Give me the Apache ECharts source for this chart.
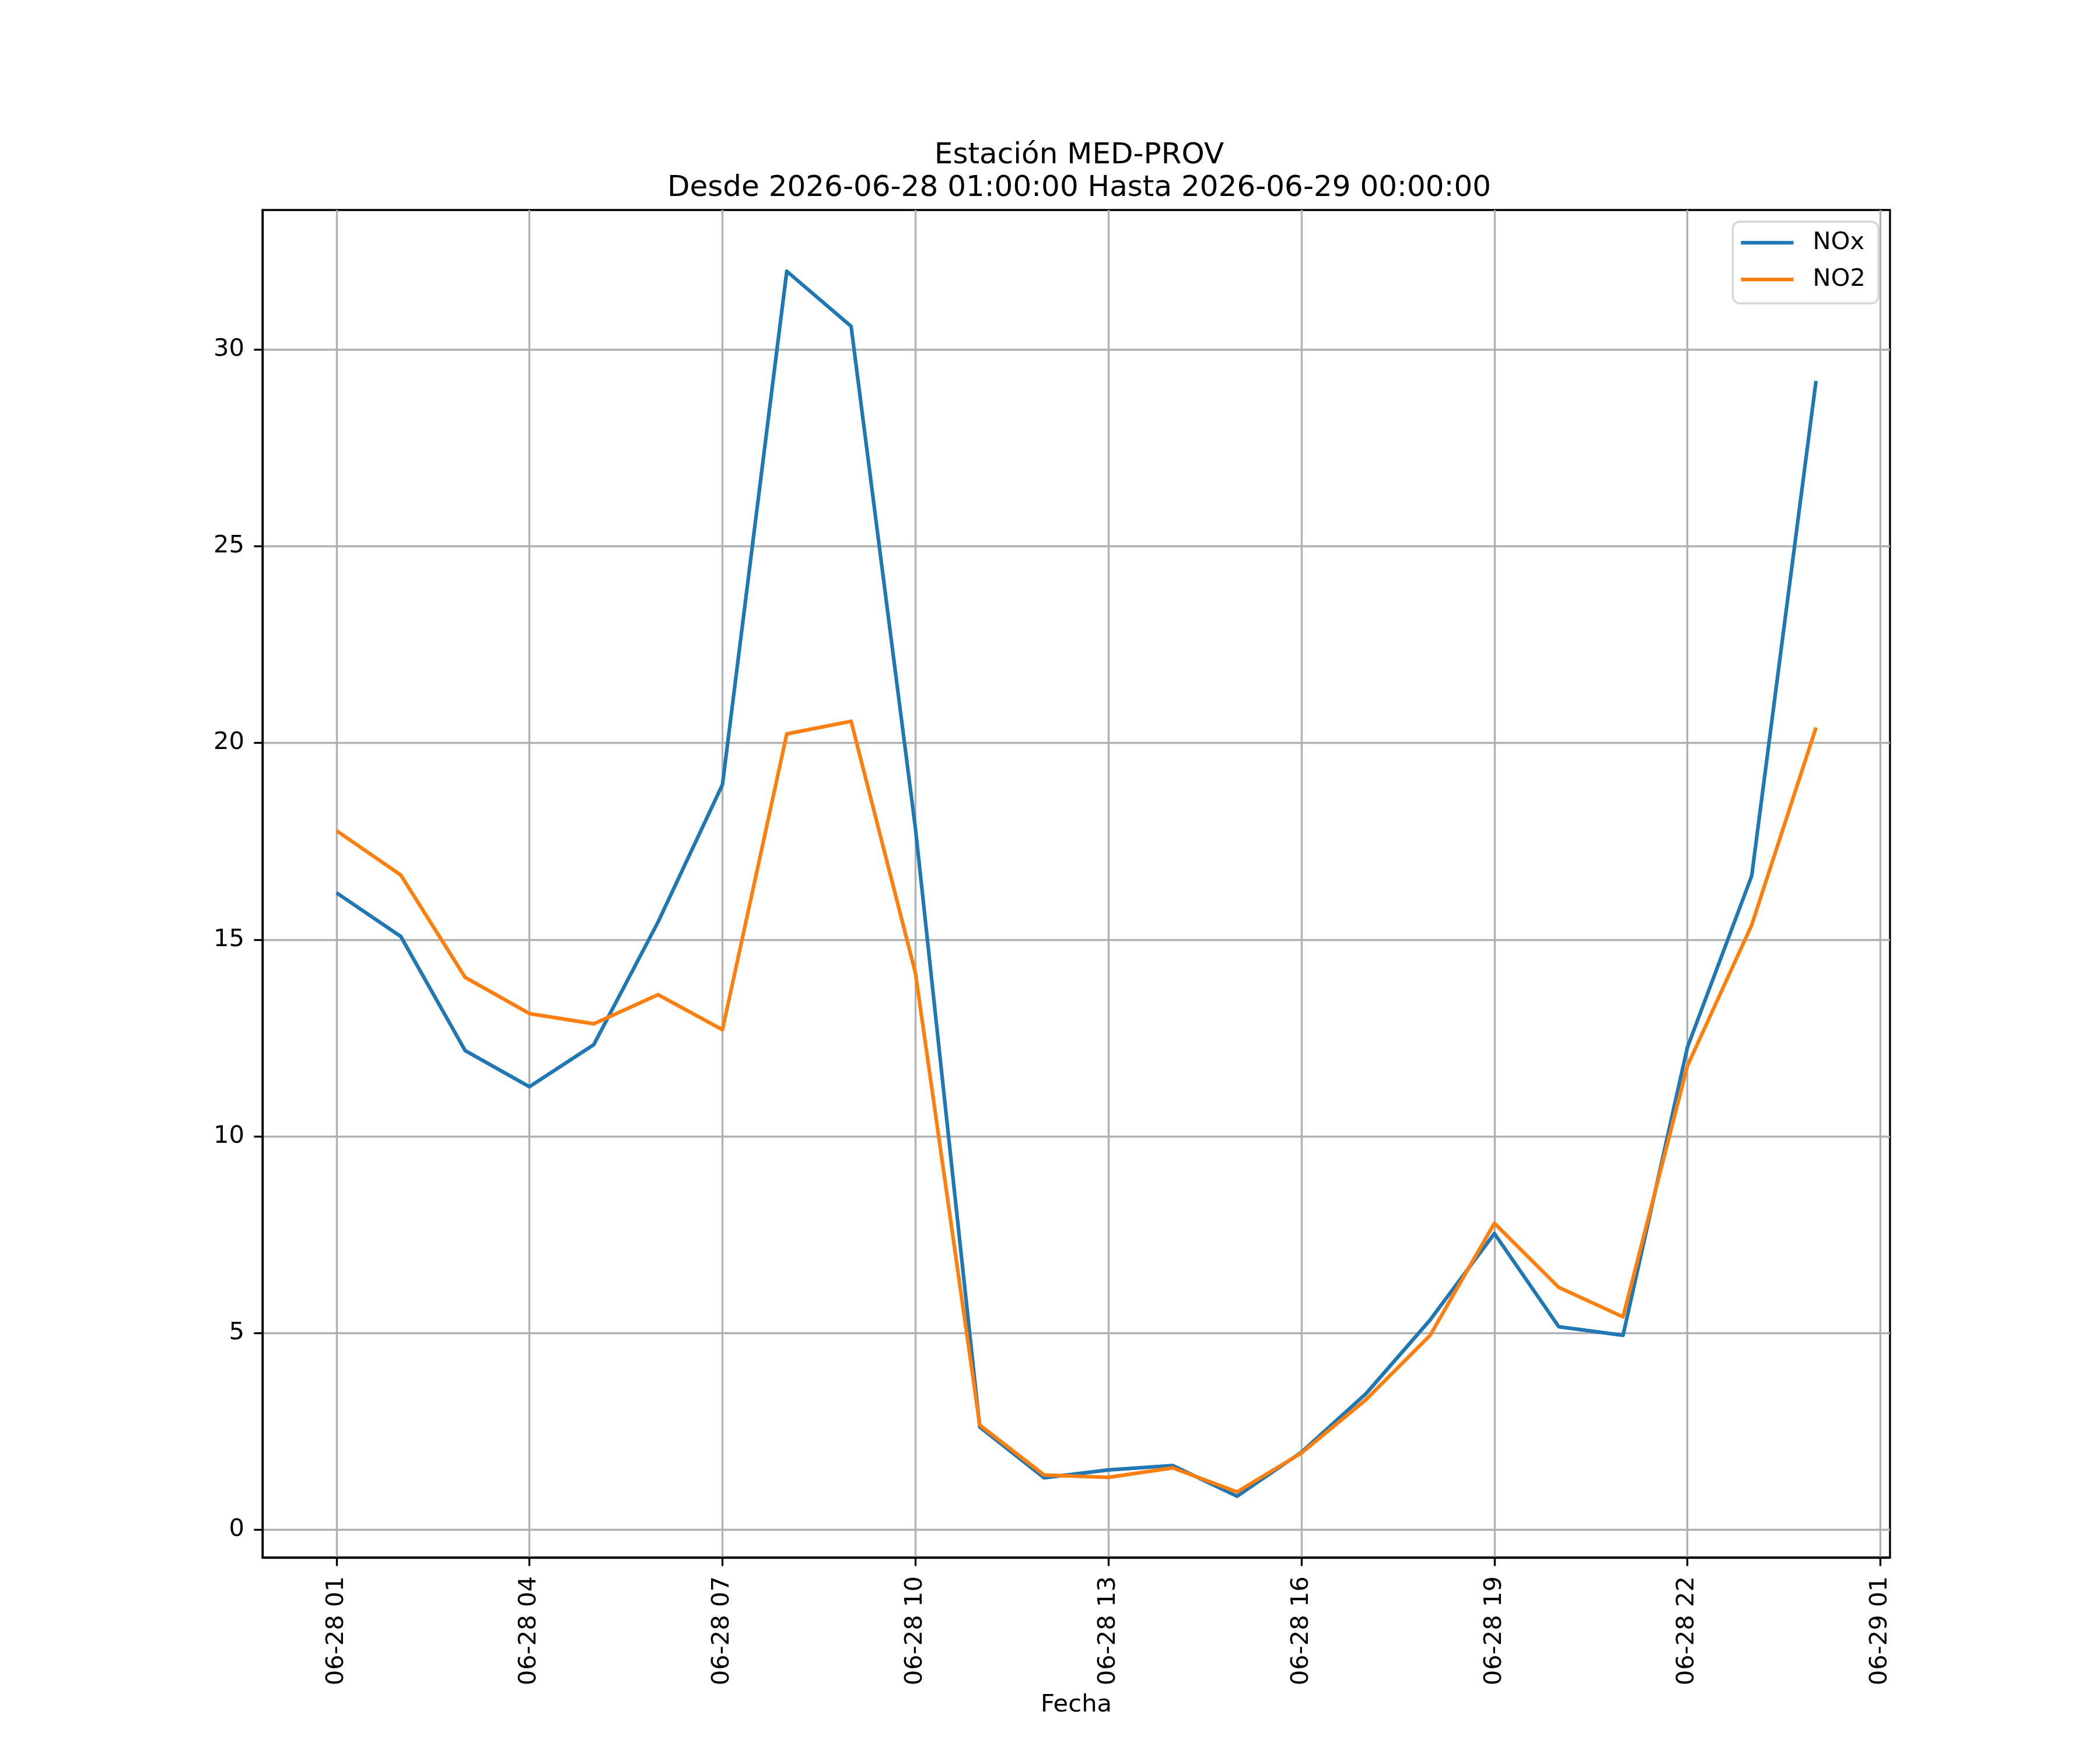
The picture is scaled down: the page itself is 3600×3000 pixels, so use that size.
<!DOCTYPE html>
<html>
<head>
<meta charset="utf-8">
<script src="https://cdn.jsdelivr.net/npm/echarts@6/dist/echarts.min.js"></script>
<style>
html,body{margin:0;padding:0;background:#fff;}
#chart{width:3600px;height:3000px;}
</style>
</head>
<body>
<div id="chart"></div>
<script>
// Hourly timestamps from 2026-06-28 01:00 to 2026-06-29 00:00
const times = ['2026-06-28 01:00','2026-06-28 02:00','2026-06-28 03:00','2026-06-28 04:00','2026-06-28 05:00','2026-06-28 06:00',
  '2026-06-28 07:00','2026-06-28 08:00','2026-06-28 09:00','2026-06-28 10:00','2026-06-28 11:00','2026-06-28 12:00',
  '2026-06-28 13:00','2026-06-28 14:00','2026-06-28 15:00','2026-06-28 16:00','2026-06-28 17:00','2026-06-28 18:00',
  '2026-06-28 19:00','2026-06-28 20:00','2026-06-28 21:00','2026-06-28 22:00','2026-06-28 23:00','2026-06-29 00:00'];
const noxValues = [16.19, 15.08, 12.18, 11.26, 12.33, 15.45, 18.94, 31.99, 30.59, 17.83, 2.61, 1.32,
  1.52, 1.63, 0.85, 1.97, 3.45, 5.33, 7.53, 5.16, 4.94, 12.26, 16.62, 29.20];
const no2Values = [17.77, 16.64, 14.04, 13.12, 12.86, 13.60, 12.71, 20.23, 20.55, 14.15, 2.66, 1.39,
  1.33, 1.57, 0.96, 1.95, 3.30, 4.94, 7.79, 6.16, 5.41, 11.79, 15.37, 20.39];
// x tick positions are hour offsets from the first timestamp
const xTickValues = [0, 3, 6, 9, 12, 15, 18, 21, 24];
const xTickLabels = ['06-28 01','06-28 04','06-28 07','06-28 10','06-28 13','06-28 16','06-28 19','06-28 22','06-29 01'];
const yTickValues = [0, 5, 10, 15, 20, 25, 30];
const seriesNames = ['NOx', 'NO2'];
const titleText = 'Estación MED-PROV\nDesde 2026-06-28 01:00:00 Hasta 2026-06-29 00:00:00';
const xAxisName = 'Fecha';

const FONT = 'DejaVu Sans';
const allVals = noxValues.concat(no2Values);
const dMin = Math.min.apply(null, allVals), dMax = Math.max.apply(null, allVals);
const yPad = (dMax - dMin) * 0.05;
const xPad = (times.length - 1) * 0.05;

const chart = echarts.init(document.getElementById('chart'), null, {renderer: 'canvas', devicePixelRatio: 1});
const toPairs = arr => arr.map((v, i) => [i, v]);

chart.setOption({
  animation: false,
  backgroundColor: '#ffffff',
  title: {
    text: titleText,
    left: 1845, top: 234, textAlign: 'center',
    textStyle: {fontFamily: FONT, fontSize: 50, fontWeight: 'normal', color: '#000', lineHeight: 56}
  },
  legend: {
    orient: 'vertical', right: 380, top: 380,
    data: seriesNames,
    icon: 'rect',
    itemWidth: 90, itemHeight: 6.25, itemGap: 21,
    padding: [15, 22, 20, 14],
    backgroundColor: 'rgba(255,255,255,0.8)',
    borderColor: '#d6d6d6', borderWidth: 3.33, borderRadius: 12,
    textStyle: {fontFamily: FONT, fontSize: 41.67, color: '#000', padding: [0, 0, 0, 28]}
  },
  grid: {
    left: 450, right: 360, top: 360, bottom: 330,
    show: true, borderColor: '#000', borderWidth: 3.33, backgroundColor: 'transparent'
  },
  xAxis: {
    type: 'value',
    min: -xPad, max: times.length - 1 + xPad,
    name: xAxisName, nameLocation: 'middle', nameGap: 232,
    nameTextStyle: {fontFamily: FONT, fontSize: 41.67, color: '#000'},
    axisLine: {show: true, onZero: false, lineStyle: {color: '#000', width: 3.33}},
    axisTick: {show: true, length: 14.6, customValues: xTickValues, lineStyle: {color: '#000', width: 3.33}},
    axisLabel: {
      rotate: 90, margin: 32, customValues: xTickValues,
      fontFamily: FONT, fontSize: 41.67, color: '#000',
      formatter: v => { const k = xTickValues.indexOf(Math.round(v)); return k >= 0 ? xTickLabels[k] : ''; }
    },
    splitLine: {show: true, lineStyle: {color: '#b0b0b0', width: 3.33}}
  },
  yAxis: {
    type: 'value',
    min: dMin - yPad, max: dMax + yPad,
    axisLine: {show: true, onZero: false, lineStyle: {color: '#000', width: 3.33}},
    axisTick: {show: true, length: 14.6, customValues: yTickValues, lineStyle: {color: '#000', width: 3.33}},
    axisLabel: {
      margin: 31, customValues: yTickValues,
      fontFamily: FONT, fontSize: 41.67, color: '#000',
      formatter: v => String(Math.round(v))
    },
    splitLine: {show: true, lineStyle: {color: '#b0b0b0', width: 3.33}}
  },
  series: [
    {name: seriesNames[0], type: 'line', data: toPairs(noxValues), symbol: 'none',
     color: '#1f77b4', lineStyle: {color: '#1f77b4', width: 6.25, join: 'round'}},
    {name: seriesNames[1], type: 'line', data: toPairs(no2Values), symbol: 'none',
     color: '#ff7f0e', lineStyle: {color: '#ff7f0e', width: 6.25, join: 'round'}}
  ]
});
</script>
</body>
</html>
